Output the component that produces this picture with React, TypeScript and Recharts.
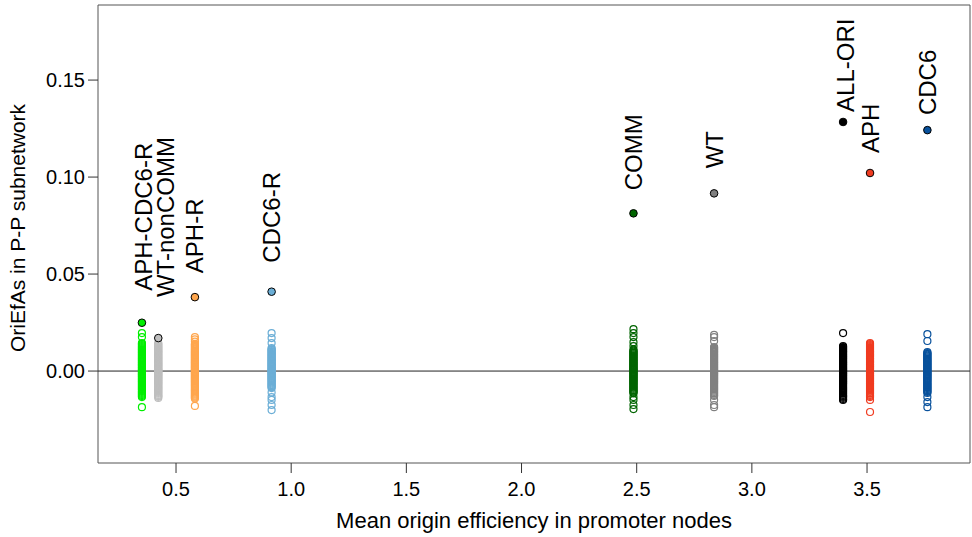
import React from 'react';
import {
  ScatterChart,
  Scatter,
  XAxis,
  YAxis,
  ReferenceLine,
  ReferenceArea,
} from 'recharts';

// groups, in plotting order
const groupNames = ['APH-CDC6-R', 'WT-nonCOMM', 'APH-R', 'CDC6-R', 'COMM', 'WT', 'ALL-ORI', 'APH', 'CDC6'];
const meanEfficiency = [0.352, 0.423, 0.582, 0.915, 2.486, 2.836, 3.396, 3.513, 3.762];
const observedOriEfAs = [0.0249, 0.017, 0.0381, 0.0409, 0.0813, 0.0916, 0.1284, 0.1021, 0.1242];

// permutation (null) values per group
const nullAphCdc6R = [
  0.0196, 0.0175, 0.0144, 0.0139, 0.0134, 0.0128, 0.0123, 0.0118, 0.0113, 0.0108, 0.0103, 0.0098, 0.0094, 0.0089,
  0.0084, 0.008, 0.0075, 0.0071, 0.0066, 0.0062, 0.0057, 0.0053, 0.0048, 0.0044, 0.004, 0.0035, 0.0031, 0.0027,
  0.0022, 0.0018, 0.0014, 0.0009, 0.0005, 0.0001, -0.0003, -0.0008, -0.0012, -0.0016, -0.0021, -0.0025, -0.003,
  -0.0034, -0.0039, -0.0043, -0.0048, -0.0053, -0.0057, -0.0062, -0.0067, -0.0072, -0.0077, -0.0082, -0.0087,
  -0.0092, -0.0097, -0.0103, -0.0108, -0.0113, -0.0118, -0.0124, -0.0129, -0.0134, -0.0186,
];
const nullWtNonComm = [
  0.0144, 0.0139, 0.0134, 0.0129, 0.0124, 0.0119, 0.0114, 0.0109, 0.0104, 0.0099, 0.0095, 0.009, 0.0085, 0.0081,
  0.0076, 0.0072, 0.0067, 0.0063, 0.0058, 0.0054, 0.0049, 0.0045, 0.0041, 0.0036, 0.0032, 0.0028, 0.0023, 0.0019,
  0.0015, 0.001, 0.0006, 0.0002, -0.0002, -0.0007, -0.0011, -0.0015, -0.002, -0.0024, -0.0029, -0.0033, -0.0038,
  -0.0042, -0.0047, -0.0052, -0.0056, -0.0061, -0.0066, -0.0071, -0.0076, -0.0081, -0.0086, -0.0091, -0.0096,
  -0.0101, -0.0107, -0.0112, -0.0117, -0.0123, -0.0128, -0.0133, -0.0139,
];
const nullAphR = [
  0.0175, 0.0163, 0.0152, 0.014, 0.0135, 0.013, 0.0125, 0.012, 0.0115, 0.011, 0.0105, 0.01, 0.0096, 0.0091, 0.0086,
  0.0082, 0.0077, 0.0073, 0.0068, 0.0064, 0.0059, 0.0055, 0.005, 0.0046, 0.0042, 0.0037, 0.0033, 0.0029, 0.0024,
  0.002, 0.0016, 0.0011, 0.0007, 0.0003, -0.0001, -0.0006, -0.001, -0.0014, -0.0019, -0.0023, -0.0028, -0.0032,
  -0.0037, -0.0041, -0.0046, -0.0051, -0.0055, -0.006, -0.0065, -0.007, -0.0075, -0.008, -0.0085, -0.009, -0.0095,
  -0.01, -0.0105, -0.0111, -0.0116, -0.0121, -0.0126, -0.0131, -0.0136, -0.0141, -0.018,
];
const nullCdc6R = [
  0.0196, 0.017, 0.0144, 0.0118, 0.0113, 0.0108, 0.0103, 0.0099, 0.0094, 0.0089, 0.0085, 0.008, 0.0076, 0.0071,
  0.0067, 0.0062, 0.0058, 0.0053, 0.0049, 0.0045, 0.004, 0.0036, 0.0032, 0.0027, 0.0023, 0.0019, 0.0014, 0.001,
  0.0006, 0.0002, -0.0003, -0.0007, -0.0011, -0.0016, -0.002, -0.0025, -0.0029, -0.0034, -0.0038, -0.0043, -0.0048,
  -0.0053, -0.0058, -0.0063, -0.0068, -0.0073, -0.0078, -0.0083, -0.0088, -0.011, -0.0134, -0.0149, -0.0175, -0.0201,
];
const nullComm = [
  0.0216, 0.0196, 0.0175, 0.0149, 0.0129, 0.011, 0.0105, 0.01, 0.0095, 0.0091, 0.0086, 0.0081, 0.0077, 0.0072,
  0.0068, 0.0063, 0.0059, 0.0054, 0.005, 0.0046, 0.0041, 0.0037, 0.0033, 0.0028, 0.0024, 0.002, 0.0015, 0.0011,
  0.0007, 0.0003, -0.0002, -0.0006, -0.001, -0.0015, -0.0019, -0.0024, -0.0028, -0.0033, -0.0037, -0.0042, -0.0047,
  -0.0051, -0.0056, -0.0061, -0.0066, -0.0071, -0.0076, -0.0081, -0.0086, -0.0091, -0.0096, -0.0101, -0.0106,
  -0.011, -0.0115, -0.0134, -0.0149, -0.0175, -0.0196,
];
const nullWt = [
  0.0186, 0.0175, 0.0155, 0.0124, 0.0119, 0.0114, 0.0109, 0.0104, 0.0099, 0.0095, 0.009, 0.0085, 0.0081, 0.0076,
  0.0072, 0.0067, 0.0063, 0.0058, 0.0054, 0.0049, 0.0045, 0.0041, 0.0036, 0.0032, 0.0028, 0.0023, 0.0019, 0.0015,
  0.001, 0.0006, 0.0002, -0.0002, -0.0007, -0.0011, -0.0015, -0.002, -0.0024, -0.0029, -0.0033, -0.0038, -0.0042,
  -0.0047, -0.0052, -0.0056, -0.0061, -0.0066, -0.0071, -0.0076, -0.0081, -0.0086, -0.0091, -0.0096, -0.0101,
  -0.0107, -0.0112, -0.0117, -0.0123, -0.0128, -0.0149, -0.0175, -0.0186,
];
const nullAllOri = [
  0.0196, 0.0129, 0.0124, 0.0119, 0.0114, 0.0109, 0.0104, 0.0099, 0.0095, 0.009, 0.0085, 0.0081, 0.0076, 0.0072,
  0.0067, 0.0063, 0.0058, 0.0054, 0.0049, 0.0045, 0.0041, 0.0036, 0.0032, 0.0028, 0.0023, 0.0019, 0.0015, 0.001,
  0.0006, 0.0002, -0.0002, -0.0007, -0.0011, -0.0015, -0.002, -0.0024, -0.0029, -0.0033, -0.0038, -0.0042, -0.0047,
  -0.0052, -0.0056, -0.0061, -0.0066, -0.0071, -0.0076, -0.0081, -0.0086, -0.0091, -0.0096, -0.0101, -0.0107,
  -0.0112, -0.0117, -0.0123, -0.0128, -0.0133, -0.0138, -0.0144, -0.0149,
];
const nullAph = [
  0.0144, 0.0139, 0.0134, 0.0129, 0.0124, 0.0119, 0.0114, 0.0109, 0.0104, 0.0099, 0.0095, 0.009, 0.0085, 0.0081,
  0.0076, 0.0072, 0.0067, 0.0063, 0.0058, 0.0054, 0.0049, 0.0045, 0.0041, 0.0036, 0.0032, 0.0028, 0.0023, 0.0019,
  0.0015, 0.001, 0.0006, 0.0002, -0.0002, -0.0007, -0.0011, -0.0015, -0.002, -0.0024, -0.0029, -0.0033, -0.0038,
  -0.0042, -0.0047, -0.0052, -0.0056, -0.0061, -0.0066, -0.0071, -0.0076, -0.0081, -0.0086, -0.0091, -0.0096,
  -0.0101, -0.0107, -0.0112, -0.0117, -0.0123, -0.0128, -0.0134, -0.0149, -0.0211,
];
const nullCdc6 = [
  0.019, 0.0155, 0.0098, 0.0093, 0.0089, 0.0084, 0.008, 0.0075, 0.0071, 0.0066, 0.0062, 0.0057, 0.0053, 0.0049,
  0.0044, 0.004, 0.0036, 0.0031, 0.0027, 0.0023, 0.0018, 0.0014, 0.001, 0.0006, 0.0001, -0.0003, -0.0007, -0.0012,
  -0.0016, -0.0021, -0.0025, -0.003, -0.0034, -0.0039, -0.0043, -0.0048, -0.0053, -0.0058, -0.0063, -0.0068,
  -0.0073, -0.0078, -0.0083, -0.0088, -0.0093, -0.0098, -0.0103, -0.0108, -0.0113, -0.0134, -0.016, -0.0186,
];

const nullValues = [nullAphCdc6R, nullWtNonComm, nullAphR, nullCdc6R, nullComm, nullWt, nullAllOri, nullAph, nullCdc6];

const xTicks = [0.5, 1.0, 1.5, 2.0, 2.5, 3.0, 3.5];
const yTicks = [0, 0.05, 0.1, 0.15];

const X_DOMAIN: [number, number] = [0.1613, 3.947];
const Y_DOMAIN: [number, number] = [-0.0474, 0.1887];

const colors = ['#00ee00', '#bebebe', '#ffa64d', '#6baed6', '#006400', '#808080', '#000000', '#f03b20', '#08519c'];
// label nudges in px: gap above the point, sideways shift
const labelGap = [32, 41, 24, 29, 23, 25, 10, 20, 15];
const labelShift = [1, 7, 0, 0, 0, 0, 2, 0, 0];

const FONT = '"Liberation Sans", Arial, Helvetica, sans-serif';
const LABEL_SIZE = 24;

const App: React.FC = () => {
  return (
    <div style={{ position: 'absolute', left: 0, top: 0, width: 972, height: 537, background: '#fff', fontFamily: FONT }}>
      <ScatterChart width={972} height={537} margin={{ top: 5, right: 2, bottom: 0, left: 0 }}>
        <XAxis
          type="number"
          dataKey="x"
          domain={X_DOMAIN}
          allowDataOverflow
          ticks={xTicks}
          tickFormatter={(v: number) => v.toFixed(1)}
          axisLine={false}
          tickLine={{ stroke: '#333' }}
          tickSize={10}
          tickMargin={9}
          height={74}
          tick={{ fill: '#000', fontSize: 20, fontFamily: FONT }}
          label={({ viewBox }: any) => (
            <text x={viewBox.x + viewBox.width / 2} y={528} textAnchor="middle" fontSize={22} fontFamily={FONT} fill="#000">
              Mean origin efficiency in promoter nodes
            </text>
          )}
        />
        <YAxis
          type="number"
          dataKey="y"
          domain={Y_DOMAIN}
          allowDataOverflow
          ticks={yTicks}
          tickFormatter={(v: number) => v.toFixed(2)}
          axisLine={false}
          tickLine={{ stroke: '#333' }}
          tickSize={10}
          tickMargin={3}
          width={98}
          tick={{ fill: '#000', fontSize: 20, fontFamily: FONT }}
          label={({ viewBox }: any) => (
            <text
              transform={`translate(25, ${viewBox.y + viewBox.height / 2 - 6}) rotate(-90)`}
              textAnchor="middle"
              fontSize={21}
              fontFamily={FONT}
              fill="#000"
            >
              OriEfAs in P-P subnetwork
            </text>
          )}
        />
        <ReferenceArea
          x1={X_DOMAIN[0]}
          x2={X_DOMAIN[1]}
          y1={Y_DOMAIN[0]}
          y2={Y_DOMAIN[1]}
          fill="none"
          stroke="#555"
          strokeWidth={1}
          ifOverflow="visible"
        />
        {groupNames.map((name, i) => (
          <Scatter
            key={`null-${name}`}
            name={`${name} null`}
            data={nullValues[i].map((y) => ({ x: meanEfficiency[i], y }))}
            isAnimationActive={false}
            shape={(p: any) => <circle cx={p.cx} cy={p.cy} r={3.5} fill="none" stroke={colors[i]} strokeWidth={1.2} />}
          />
        ))}
        {groupNames.map((name, i) => (
          <Scatter
            key={`obs-${name}`}
            name={name}
            data={[{ x: meanEfficiency[i], y: observedOriEfAs[i] }]}
            isAnimationActive={false}
            shape={(p: any) => (
              <g>
                <circle cx={p.cx} cy={p.cy} r={3.8} fill={colors[i]} stroke="#000" strokeWidth={1} />
                <text
                  transform={`translate(${p.cx + labelShift[i]}, ${p.cy - labelGap[i]}) rotate(-90)`}
                  dy={LABEL_SIZE * 0.358}
                  textAnchor="start"
                  fontSize={LABEL_SIZE}
                  fontFamily={FONT}
                  fill="#000"
                >
                  {name}
                </text>
              </g>
            )}
          />
        ))}
        <ReferenceLine y={0} stroke="#222" strokeWidth={1} />
      </ScatterChart>
    </div>
  );
};

export default App;
